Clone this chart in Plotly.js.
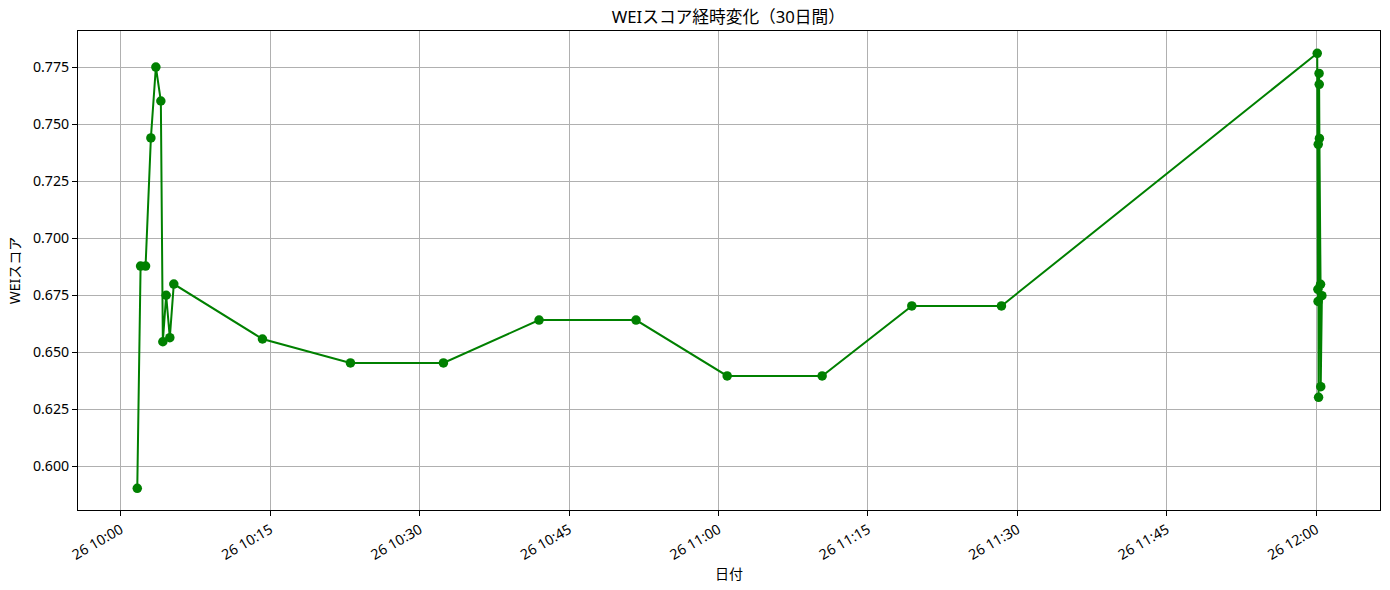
<!DOCTYPE html>
<html>
<head>
<meta charset="utf-8">
<script src="https://cdn.plot.ly/plotly-3.0.1.min.js"></script>
<style>html,body{margin:0;padding:0;background:#fff;}#chart{width:1390px;height:590px;}</style>
</head>
<body>
<div id="chart"></div>
<script>
const timestamps = [
  "2025-06-26 10:01:39","2025-06-26 10:01:59","2025-06-26 10:02:29","2025-06-26 10:03:01",
  "2025-06-26 10:03:31","2025-06-26 10:04:01","2025-06-26 10:04:13","2025-06-26 10:04:33",
  "2025-06-26 10:04:55","2025-06-26 10:05:19","2025-06-26 10:14:13","2025-06-26 10:23:03",
  "2025-06-26 10:32:23","2025-06-26 10:41:59","2025-06-26 10:51:43","2025-06-26 11:00:52",
  "2025-06-26 11:10:24","2025-06-26 11:19:24","2025-06-26 11:28:24",
  "2025-06-26 12:00:06","2025-06-26 12:00:10","2025-06-26 12:00:11","2025-06-26 12:00:12",
  "2025-06-26 12:00:14","2025-06-26 12:00:17","2025-06-26 12:00:18","2025-06-26 12:00:19",
  "2025-06-26 12:00:26","2025-06-26 12:00:27","2025-06-26 12:00:34"
];
const weiScores = [
  0.5902, 0.6877, 0.6877, 0.7439,
  0.7750, 0.7601, 0.6545, 0.6749,
  0.6563, 0.6798, 0.6557, 0.6452,
  0.6452, 0.6640, 0.6640, 0.6395,
  0.6395, 0.6702, 0.6702,
  0.7810, 0.6775, 0.6722, 0.7411,
  0.6301, 0.7722, 0.7674, 0.7437,
  0.6797, 0.6348, 0.6747
];
const titleText = "WEIスコア経時変化（30日間）";
const xLabel = "日付";
const yLabel = "WEIスコア";

const font = "'Noto Sans', 'Noto Sans CJK JP', sans-serif";

Plotly.newPlot("chart", [{
  x: timestamps,
  y: weiScores,
  type: "scatter",
  mode: "lines+markers",
  line: {color: "#008000", width: 2},
  marker: {color: "#008000", size: 9.5},
  showlegend: false
}], {
  width: 1390, height: 590,
  margin: {l: 78, r: 10, t: 31, b: 80},
  paper_bgcolor: "#ffffff", plot_bgcolor: "#ffffff",
  font: {family: font, size: 14, color: "#000"},
  title: {text: titleText, font: {family: font, size: 16.7, color: "#000"}, x: 0.524, xanchor: "center", y: 0.971, yanchor: "middle"},
  xaxis: {
    type: "date",
    range: ["2025-06-26 09:55:42", "2025-06-26 12:06:24"],
    tickformat: "%d %H:%M",
    dtick: 15 * 60 * 1000,
    tick0: "2025-06-26 10:00:00",
    tickangle: -30,
    ticks: "outside", ticklen: 5, tickcolor: "#000", tickwidth: 1,
    showgrid: true, gridcolor: "#b0b0b0", gridwidth: 1,
    showline: true, linecolor: "#000", linewidth: 1, mirror: true,
    zeroline: false,
    tickfont: {family: font, size: 14.2, color: "#000"},
    title: {text: xLabel, font: {family: font, size: 14, color: "#000"}, standoff: 1}
  },
  yaxis: {
    range: [0.5807, 0.7908],
    tick0: 0.6, dtick: 0.025,
    tickformat: ".3f",
    ticks: "outside", ticklen: 5, tickcolor: "#000", tickwidth: 1,
    showgrid: true, gridcolor: "#b0b0b0", gridwidth: 1,
    showline: true, linecolor: "#000", linewidth: 1, mirror: true,
    zeroline: false,
    tickfont: {family: font, size: 14.2, color: "#000"},
    title: {text: yLabel, font: {family: font, size: 14, color: "#000"}, standoff: 8}
  }
}, {displayModeBar: false, staticPlot: true});
</script>
</body>
</html>
